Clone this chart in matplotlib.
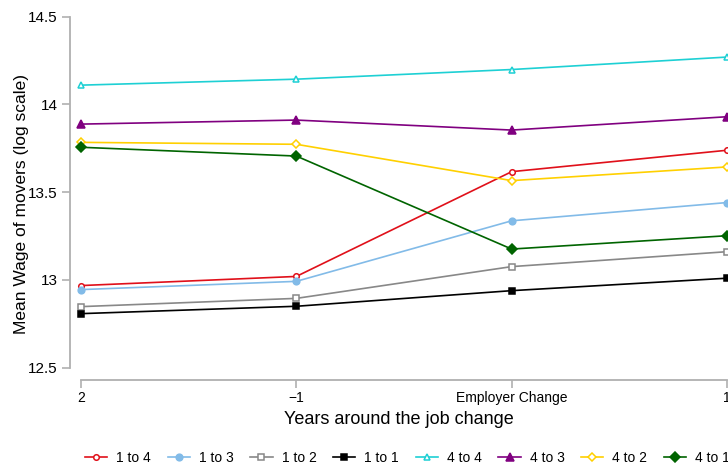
import matplotlib
matplotlib.use("Agg")
from matplotlib import pyplot as plt
import numpy as np

plt.rcParams['font.family'] = ['Liberation Sans', 'DejaVu Sans']

# event time around the employer change
periods = ['2', '\u22121', 'Employer Change', '1']

# mean log wage of movers, by quartile transition
w_1to4 = [12.968, 13.020, 13.617, 13.739]
w_1to3 = [12.945, 12.992, 13.337, 13.441]
w_1to2 = [12.848, 12.895, 13.076, 13.161]
w_1to1 = [12.808, 12.850, 12.939, 13.010]
w_4to4 = [14.110, 14.144, 14.199, 14.270]
w_4to3 = [13.888, 13.911, 13.854, 13.930]
w_4to2 = [13.784, 13.773, 13.566, 13.644]
w_4to1 = [13.756, 13.706, 13.176, 13.252]

series = [
    ('1 to 4', w_1to4, '#e0101a', 'o', 4.0, True),
    ('1 to 3', w_1to3, '#82bbe8', 'o', 4.8, False),
    ('1 to 2', w_1to2, '#888888', 's', 4.0, True),
    ('1 to 1', w_1to1, '#000000', 's', 5.0, False),
    ('4 to 4', w_4to4, '#1ed0d4', '^', 5.0, True),
    ('4 to 3', w_4to3, '#800080', '^', 5.5, False),
    ('4 to 2', w_4to2, '#ffd000', 'D', 4.0, True),
    ('4 to 1', w_4to1, '#006400', 'D', 4.6, False),
]

x = np.arange(len(periods))

fig = plt.figure(figsize=(7.28, 4.69), dpi=100)
ax = fig.add_axes([70 / 728, 1 - 380 / 469, 1 - 70 / 728, (380 - 16.7) / 469])

for name, vals, col, mk, ms, hollow in series:
    ax.plot(x, vals, color=col, lw=1.2, marker=mk, markersize=ms,
            markerfacecolor='white' if hollow else col,
            markeredgecolor=col, markeredgewidth=1.1,
            label=name, clip_on=False, zorder=3)

ax.set_xlim(-11 / 215.3, 3 + 1 / 215.3)
ax.set_ylim(12.5 - 12.3 / 175.5, 14.5)

for s in ['top', 'right']:
    ax.spines[s].set_visible(False)
ax.spines['left'].set_bounds(12.5, 14.5)
ax.spines['bottom'].set_bounds(0, 3)
for s in ['left', 'bottom']:
    ax.spines[s].set_color('#b0b0b0')
    ax.spines[s].set_linewidth(1.3)

ax.set_yticks([12.5, 13, 13.5, 14, 14.5])
ax.set_yticklabels(['12.5', '13', '13.5', '14', '14.5'])
ax.set_xticks(x)
ax.set_xticklabels(periods)
ax.tick_params(axis='y', colors='#b0b0b0', labelcolor='black', labelsize=11,
               length=6, width=1.2, pad=3)
ax.tick_params(axis='x', colors='#b0b0b0', labelcolor='black', labelsize=10,
               length=6, width=1.2, pad=2)

ax.set_xlabel('Years around the job change', fontsize=13, labelpad=4)
ax.set_ylabel('Mean Wage of movers (log scale)', fontsize=12.5)
ax.yaxis.set_label_coords(-41 / 658, 0.485)

fig.legend(loc='center left', bbox_to_anchor=(85 / 728, 1 - 458 / 469),
           ncol=8, frameon=False, fontsize=10, handlelength=1.6,
           handletextpad=0.65, columnspacing=1.2, borderpad=0, borderaxespad=0)

fig.savefig('out.png', dpi=100)
